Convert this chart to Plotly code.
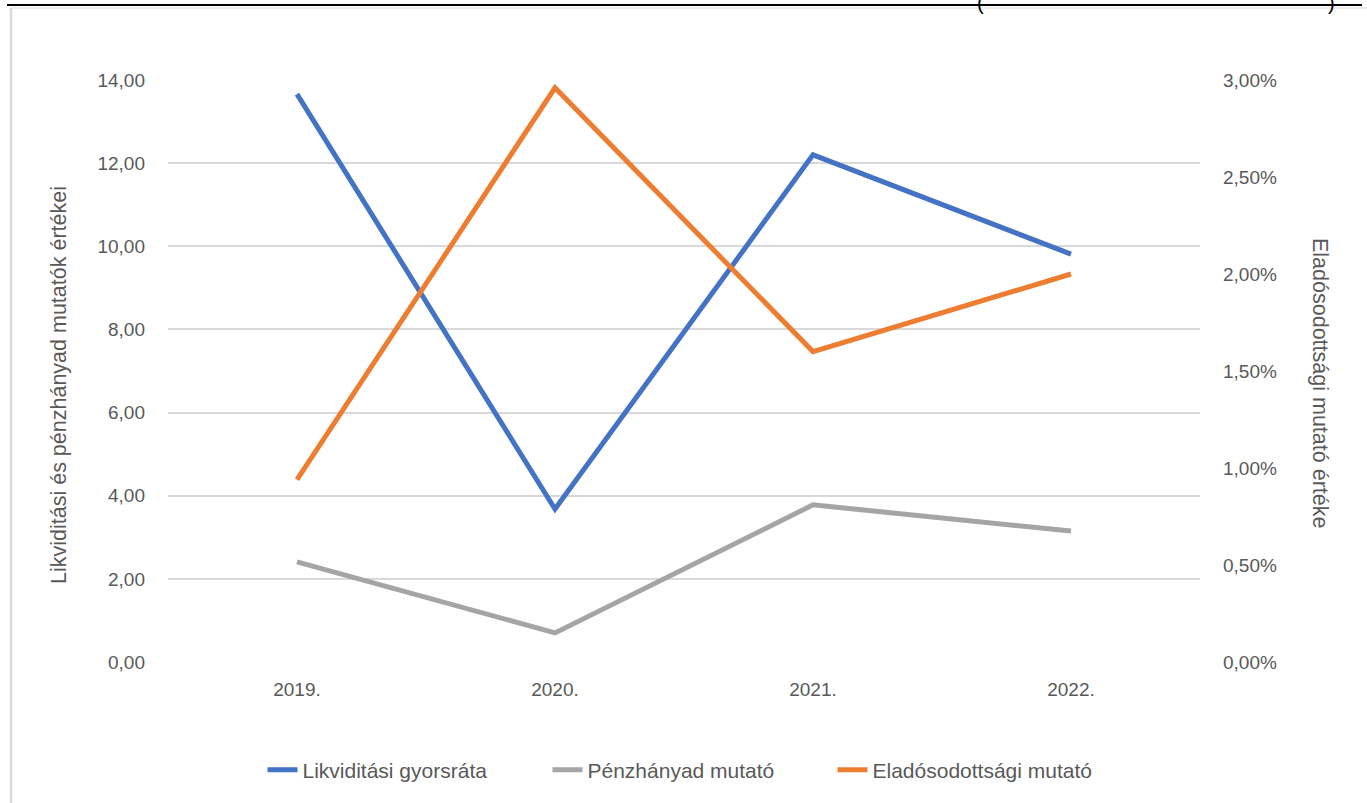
import plotly.graph_objects as go

years = ["2019.", "2020.", "2021.", "2022."]
gyorsrata = [13.66, 3.68, 12.20, 9.81]
penzhanyad = [2.41, 0.70, 3.78, 3.15]
eladosodottsag = [0.0094, 0.0296, 0.0160, 0.0200]

FONT = "Liberation Sans Narrow, Arial Narrow, Liberation Sans, sans-serif"
TXT = "#595959"
W, H = 1367, 803
L, R, T, B = 168, 167, 80, 141

def px(x):
    return (x - L) / (W - L - R)

def py(y):
    return (H - B - y) / (H - T - B)

fig = go.Figure()
fig.add_trace(go.Scatter(x=years, y=gyorsrata, name="Likviditási gyorsráta", mode="lines",
                         line=dict(color="#4472C4", width=5)))
fig.add_trace(go.Scatter(x=years, y=penzhanyad, name="Pénzhányad mutató", mode="lines",
                         line=dict(color="#A5A5A5", width=5)))
fig.add_trace(go.Scatter(x=years, y=eladosodottsag, name="Eladósodottsági mutató", mode="lines",
                         line=dict(color="#ED7D31", width=5), yaxis="y2"))

fig.update_layout(
    width=W, height=H,
    margin=dict(l=L, r=R, t=T, b=B),
    paper_bgcolor="white", plot_bgcolor="white",
    separators=", ",
    font=dict(family=FONT, size=19, color=TXT),
    xaxis=dict(range=[-0.5, 3.5], showgrid=False, zeroline=False, showline=False,
               ticks="", ticklabelstandoff=14, tickfont=dict(size=19, color=TXT)),
    yaxis=dict(range=[0, 14], dtick=2, tickformat=".2f", showgrid=True,
               gridcolor="#D9D9D9", gridwidth=1.5, zeroline=False, showline=False,
               ticks="", ticklabelstandoff=22, tickfont=dict(size=19, color=TXT)),
    yaxis2=dict(range=[0, 0.03], dtick=0.005, tickformat=".2%", overlaying="y",
                side="right", showgrid=False, zeroline=False, showline=False,
                ticks="", ticklabelstandoff=22, tickfont=dict(size=19, color=TXT)),
    legend=dict(orientation="h", x=px(690), xanchor="center", y=py(770), yanchor="middle",
                font=dict(size=21, color=TXT), entrywidth=240, entrywidthmode="pixels",
                bgcolor="rgba(0,0,0,0)"),
    showlegend=True,
)

fig.add_annotation(text="Likviditási és pénzhányad mutatók értékei", x=px(45), y=py(385),
                   xref="paper", yref="paper", showarrow=False, textangle=-90,
                   font=dict(size=21.5, color=TXT, family=FONT))
fig.add_annotation(text="Eladósodottsági mutató értéke", x=px(1334), y=py(383),
                   xref="paper", yref="paper", showarrow=False, textangle=90,
                   font=dict(size=21.5, color=TXT, family=FONT))
fig.add_annotation(text="(", x=px(986), y=py(-10), xref="paper", yref="paper",
                   showarrow=False, font=dict(size=20, color="black", family=FONT))
fig.add_annotation(text=")", x=px(1337), y=py(-10), xref="paper", yref="paper",
                   showarrow=False, font=dict(size=20, color="black", family=FONT))

fig.add_shape(type="line", xref="paper", yref="paper", x0=px(7), x1=px(1362), y0=py(5), y1=py(5),
              line=dict(color="black", width=2))
fig.add_shape(type="line", xref="paper", yref="paper", x0=px(11), x1=px(11), y0=py(8), y1=py(805),
              line=dict(color="#D9D9D9", width=2.5))
fig.add_shape(type="line", xref="paper", yref="paper", x0=px(11), x1=px(1367), y0=py(8), y1=py(8),
              line=dict(color="#E6E6E6", width=1.5))

fig.write_html("out.html", config={"displayModeBar": False},
               post_script="document.body.style.margin='0px';document.body.style.overflow='hidden';")
